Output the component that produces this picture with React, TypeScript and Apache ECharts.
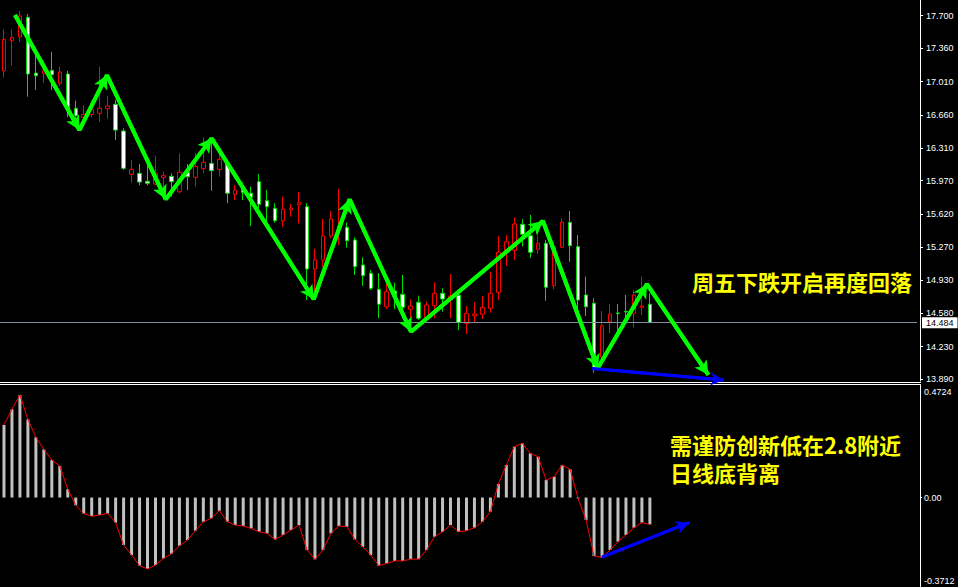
import React, { useEffect, useRef } from 'react';
import * as echarts from 'echarts';

// Bar slots across the price pane, the empty right-hand margin included
const SLOT_COUNT = 115;
const SLOTS = Array.from({ length: SLOT_COUNT }, (_, i) => `${i}`);

const OPEN = [
  17.123, 17.438, 17.48, 17.683, 17.099, 17.096, 17.127, 16.991, 17.089, 16.729,
  16.635, 16.666, 16.677, 16.725, 16.771, 16.491, 16.037, 16.047, 15.964, 15.935,
  16.001, 16.016, 15.854, 16.058, 16.005, 16.096, 16.152, 16.089, 16.152, 15.827,
  15.883, 15.838, 15.959, 15.76, 15.68, 15.55, 15.666, 15.718, 15.697, 15.044,
  15.138, 15.39, 15.477, 15.481, 15.348, 15.086, 14.999, 14.831, 14.648, 14.813,
  14.778, 14.621, 14.695, 14.537, 14.659, 14.789, 14.719, 14.768, 14.474, 14.554,
  14.569, 14.632, 14.799, 15.243, 15.24, 15.512, 15.393, 15.25, 15.313, 14.869,
  15.271, 15.533, 15.278, 14.771, 14.684, 14.118, 14.491, 14.582, 14.6, 14.579,
  14.642, 14.674,
];
const CLOSE = [
  17.453, 17.473, 17.697, 17.089, 17.071, 17.123, 17.081, 17.11, 16.711, 16.651,
  16.666, 16.718, 16.729, 16.753, 16.501, 16.1, 16.089, 15.956, 15.942, 16.047,
  16.022, 15.959, 16.058, 16.012, 16.117, 16.163, 16.075, 16.194, 15.838, 15.872,
  15.848, 15.796, 15.722, 15.697, 15.55, 15.67, 15.683, 15.739, 15.044, 15.138,
  15.39, 15.568, 15.495, 15.34, 15.068, 14.973, 14.841, 14.674, 14.806, 14.764,
  14.642, 14.656, 14.527, 14.666, 14.789, 14.729, 14.761, 14.485, 14.579, 14.572,
  14.642, 14.789, 15.219, 15.33, 15.516, 15.408, 15.219, 15.313, 14.852, 15.278,
  15.533, 15.288, 14.719, 14.648, 14.002, 14.449, 14.572, 14.575, 14.593, 14.771,
  14.656, 14.484,
];
const LOW = [
  17.054, 17.176, 17.427, 16.851, 16.921, 16.997, 16.921, 16.963, 16.635, 16.614,
  16.536, 16.635, 16.588, 16.62, 16.397, 16.082, 15.949, 15.921, 15.921, 15.925,
  15.785, 15.802, 15.838, 15.872, 15.907, 16.047, 15.865, 16.012, 15.733, 15.767,
  15.767, 15.495, 15.68, 15.54, 15.529, 15.487, 15.592, 15.522, 14.719, 14.753,
  15.068, 15.366, 15.295, 15.267, 14.981, 14.866, 14.824, 14.527, 14.624, 14.621,
  14.614, 14.383, 14.509, 14.53, 14.527, 14.596, 14.527, 14.404, 14.362, 14.481,
  14.519, 14.586, 14.719, 15.075, 15.138, 15.278, 15.162, 15.201, 14.711, 14.831,
  15.261, 15.12, 14.614, 14.551, 13.956, 14.089, 14.369, 14.404, 14.502, 14.428,
  14.561, 14.474,
];
const HIGH = [
  17.557, 17.557, 17.749, 17.718, 17.288, 17.235, 17.322, 17.165, 17.123, 16.809,
  16.76, 16.753, 17.165, 16.858, 16.816, 16.519, 16.187, 16.145, 16.152, 16.229,
  16.064, 16.047, 16.257, 16.145, 16.257, 16.425, 16.404, 16.25, 16.187, 15.925,
  15.952, 15.907, 16.04, 15.872, 15.733, 15.802, 15.725, 15.854, 15.733, 15.254,
  15.568, 15.652, 15.883, 15.529, 15.376, 15.166, 15.033, 14.999, 14.911, 14.9,
  14.981, 14.726, 14.764, 14.701, 14.904, 14.841, 14.991, 14.824, 14.656, 14.698,
  14.761, 15.015, 15.39, 15.4, 15.582, 15.565, 15.61, 15.39, 15.348, 15.33,
  15.575, 15.652, 15.4, 14.963, 14.737, 14.603, 14.677, 14.677, 14.771, 14.824,
  14.963, 14.789,
];

// MACD histogram, one value per bar
const MACD = [
  0.324, 0.394, 0.458, 0.349, 0.269, 0.215, 0.167, 0.141, 0.037, -0.035,
  -0.072, -0.083, -0.078, -0.071, -0.112, -0.212, -0.257, -0.304, -0.319, -0.301,
  -0.272, -0.251, -0.215, -0.19, -0.148, -0.108, -0.093, -0.059, -0.108, -0.123,
  -0.127, -0.138, -0.153, -0.16, -0.187, -0.167, -0.145, -0.123, -0.234, -0.276,
  -0.234, -0.16, -0.127, -0.13, -0.187, -0.22, -0.257, -0.304, -0.294, -0.283,
  -0.283, -0.275, -0.275, -0.234, -0.175, -0.153, -0.123, -0.153, -0.148, -0.135,
  -0.108, -0.063, 0.06, 0.145, 0.227, 0.242, 0.197, 0.182, 0.078, 0.093,
  0.145, 0.126, -0.004, -0.1, -0.261, -0.267, -0.234, -0.197, -0.167, -0.135,
  -0.112, -0.12,
];

const PRICE_MIN = 13.869;
const PRICE_MAX = 17.865;
const PRICE_TICKS = [17.7, 17.36, 17.01, 16.66, 16.31, 15.97, 15.62, 15.27, 14.93, 14.58, 14.23, 13.89];
const LAST_PRICE = 14.484;

const MACD_MIN = -0.3712;
const MACD_MAX = 0.4724;
const MACD_TICKS = [0.4724, 0, -0.3712];
const MACD_TICK_LABELS = ['0.4724', '0.00', '-0.3712'];

// Swing path drawn over the candles: [bar position, price]
const SWING_POINTS = [
  [1.38, 17.707], [9.46, 16.501], [12.91, 17.078], [20.29, 15.775], [26.04, 16.414],
  [38.84, 14.726], [43.34, 15.775], [51.04, 14.386], [67.59, 15.547], [74.46, 14.003],
  [80.63, 14.886], [88.34, 13.932],
];
// Divergence arrows: [bar position, value]
const PRICE_DIVERGENCE = [[73.75, 14.0], [90.25, 13.879]];
const MACD_DIVERGENCE = [[75.0, -0.266], [85.9, -0.112]];

const NOTE_PRICE = '周五下跌开启再度回落';
const NOTE_MACD = ['需谨防创新低在2.8附近', '日线底背离'];

const BULL = '#ff0000';
const BEAR = '#00dd00';
const SWING = '#00ff00';
const ARROW_BLUE = '#0000ff';
const NOTE = '#ffff00';

const axisFont = { color: '#ffffff', fontSize: 9, fontFamily: '"Liberation Sans", Arial, sans-serif' };
const noteFont = 'bold 22px "Noto Sans CJK SC", sans-serif';

function arrowSegments(points: number[][]) {
  const segs: any[] = [];
  for (let i = 1; i < points.length; i++) {
    segs.push([{ coord: points[i - 1] }, { coord: points[i] }]);
  }
  return segs;
}

export default function App() {
  const ref = useRef<HTMLDivElement>(null);

  useEffect(() => {
    if (!ref.current) return;
    const chart = echarts.init(ref.current, undefined, { renderer: 'svg' });

    const option: any = {
      animation: false,
      backgroundColor: '#000000',
      grid: [
        { left: -3, top: 0, width: 920, height: 381 },
        { left: -3, top: 391.7, width: 920, height: 189 },
      ],
      xAxis: [
        { type: 'category', gridIndex: 0, data: SLOTS, show: false, boundaryGap: true },
        { type: 'value', gridIndex: 0, min: -0.5, max: SLOT_COUNT - 0.5, show: false },
        { type: 'category', gridIndex: 1, data: SLOTS, show: false, boundaryGap: true },
        { type: 'value', gridIndex: 1, min: -0.5, max: SLOT_COUNT - 0.5, show: false },
      ],
      yAxis: [
        {
          type: 'value',
          gridIndex: 0,
          position: 'right',
          offset: 3,
          min: PRICE_MIN,
          max: PRICE_MAX,
          splitLine: { show: false },
          axisLine: { show: true, onZero: false, lineStyle: { color: '#ffffff', width: 1 } },
          axisTick: { show: true, length: 3, customValues: PRICE_TICKS, lineStyle: { color: '#ffffff' } },
          axisLabel: {
            ...axisFont,
            margin: 6,
            customValues: PRICE_TICKS,
            formatter: (v: number) => v.toFixed(3),
          },
        },
        {
          type: 'value',
          gridIndex: 1,
          position: 'right',
          offset: 3,
          min: MACD_MIN,
          max: MACD_MAX,
          splitLine: { show: false },
          axisLine: { show: false, onZero: false },
          axisTick: { show: true, length: 2, customValues: [0], lineStyle: { color: '#ffffff' } },
          axisLabel: {
            ...axisFont,
            margin: 4,
            customValues: MACD_TICKS,
            showMinLabel: true,
            showMaxLabel: true,
            formatter: (v: number) => {
              const k = MACD_TICKS.findIndex((t) => Math.abs(t - v) < 1e-6);
              return k >= 0 ? MACD_TICK_LABELS[k] : '';
            },
          },
        },
      ],
      series: [
        {
          type: 'candlestick',
          xAxisIndex: 0,
          yAxisIndex: 0,
          barWidth: 4,
          data: OPEN.map((o, i) => [o, CLOSE[i], LOW[i], HIGH[i]]),
          itemStyle: {
            color: '#000000',
            color0: '#ffffff',
            borderColor: BULL,
            borderColor0: BEAR,
            borderWidth: 1,
          },
          markLine: {
            silent: true,
            symbol: 'none',
            lineStyle: { color: '#7f8fa0', width: 1, type: 'solid' },
            label: {
              show: true,
              position: 'end',
              distance: 5,
              formatter: () => LAST_PRICE.toFixed(3),
              backgroundColor: '#ffffff',
              color: '#000000',
              fontSize: 9,
              fontFamily: axisFont.fontFamily,
              lineHeight: 10,
              padding: [1, 4, 0, 4],
            },
            emphasis: { disabled: true },
            data: [{ yAxis: LAST_PRICE }],
          },
        },
        {
          type: 'line',
          xAxisIndex: 1,
          yAxisIndex: 0,
          data: SWING_POINTS,
          symbol: 'none',
          silent: true,
          lineStyle: { color: SWING, width: 4 },
          markLine: {
            silent: true,
            symbol: ['none', 'arrow'],
            symbolSize: [11, 14],
            label: { show: false },
            lineStyle: { color: SWING, width: 4, type: 'solid' },
            emphasis: { disabled: true },
            data: arrowSegments(SWING_POINTS),
          },
        },
        {
          type: 'line',
          xAxisIndex: 1,
          yAxisIndex: 0,
          data: PRICE_DIVERGENCE,
          symbol: 'none',
          silent: true,
          lineStyle: { color: ARROW_BLUE, width: 3 },
          markLine: {
            silent: true,
            symbol: ['none', 'arrow'],
            symbolSize: [10, 13],
            label: { show: false },
            lineStyle: { color: ARROW_BLUE, width: 3, type: 'solid' },
            emphasis: { disabled: true },
            data: arrowSegments(PRICE_DIVERGENCE),
          },
        },
        {
          type: 'bar',
          xAxisIndex: 2,
          yAxisIndex: 1,
          data: MACD,
          barWidth: 3,
          silent: true,
          itemStyle: { color: '#c0c0c0' },
        },
        {
          type: 'line',
          xAxisIndex: 2,
          yAxisIndex: 1,
          data: MACD,
          symbol: 'none',
          silent: true,
          lineStyle: { color: '#ff0000', width: 1 },
        },
        {
          type: 'line',
          xAxisIndex: 3,
          yAxisIndex: 1,
          data: MACD_DIVERGENCE,
          symbol: 'none',
          silent: true,
          lineStyle: { color: ARROW_BLUE, width: 3 },
          markLine: {
            silent: true,
            symbol: ['none', 'arrow'],
            symbolSize: [10, 13],
            label: { show: false },
            lineStyle: { color: ARROW_BLUE, width: 3, type: 'solid' },
            emphasis: { disabled: true },
            data: arrowSegments(MACD_DIVERGENCE),
          },
        },
      ],
      graphic: [
        // pane separator and the indicator pane's scale line
        { type: 'line', silent: true, shape: { x1: 0, y1: 382.5, x2: 921, y2: 382.5 }, style: { stroke: '#ffffff', lineWidth: 1 } },
        { type: 'line', silent: true, shape: { x1: 0, y1: 384.5, x2: 921, y2: 384.5 }, style: { stroke: '#ffffff', lineWidth: 1 } },
        { type: 'line', silent: true, shape: { x1: 920.5, y1: 384.5, x2: 920.5, y2: 587 }, style: { stroke: '#ffffff', lineWidth: 1 } },
        {
          type: 'text',
          silent: true,
          z: 100,
          x: 692,
          y: 281,
          style: { text: NOTE_PRICE, fill: NOTE, font: noteFont, lineHeight: 22, verticalAlign: 'middle' },
        },
        {
          type: 'text',
          silent: true,
          z: 100,
          x: 670,
          y: 430,
          style: { text: NOTE_MACD.join('\n'), fill: NOTE, font: noteFont, lineHeight: 28, verticalAlign: 'top' },
        },
      ],
    };

    chart.setOption(option);
    return () => chart.dispose();
  }, []);

  return (
    <div
      ref={ref}
      style={{ position: 'fixed', left: 0, top: 0, width: 958, height: 587, background: '#000' }}
    />
  );
}
